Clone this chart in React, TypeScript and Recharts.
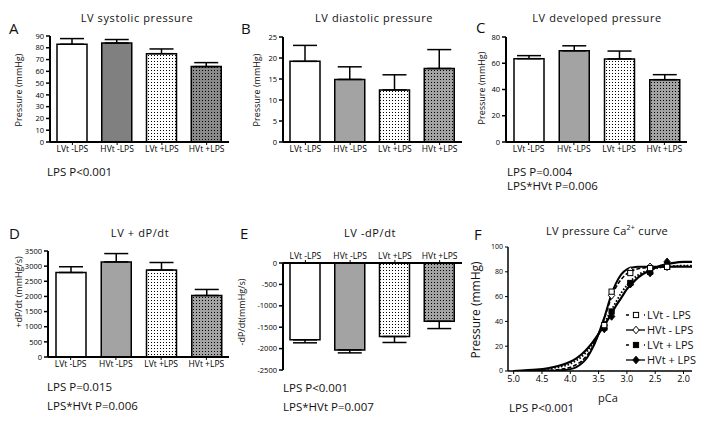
import React from 'react';
import { BarChart, Bar, XAxis, YAxis, Cell, ErrorBar, LineChart, Line } from 'recharts';

const FONT = '"Open Sans", "Noto Sans", sans-serif';

const groups = ['LVt -LPS', 'HVt -LPS', 'LVt +LPS', 'HVt +LPS'];

const systolicMean = [83, 84, 75, 64];
const systolicSem = [4.8, 3, 4, 3.4];
const systolicTicks = [0, 10, 20, 30, 40, 50, 60, 70, 80, 90];

const diastolicMean = [19.2, 14.9, 12.4, 17.5];
const diastolicSem = [3.8, 3, 3.6, 4.5];
const diastolicTicks = [0, 5, 10, 15, 20, 25];

const developedMean = [63.5, 69.5, 63.3, 47.5];
const developedSem = [2.3, 3.8, 6, 3.8];
const developedTicks = [0, 20, 40, 60, 80];

const plusMean = [2790, 3140, 2870, 2030];
const plusSem = [190, 275, 250, 200];
const plusTicks = [0, 500, 1000, 1500, 2000, 2500, 3000, 3500];

const minusMean = [-1795, -2030, -1717, -1362];
const minusSem = [70, 70, 140, 170];
const minusTicks = [-2500, -2000, -1500, -1000, -500, 0];

// Panel F: fitted curves
const curvePCa = [5.0, 4.8, 4.6, 4.4, 4.2, 4.0, 3.9, 3.8, 3.7, 3.6, 3.5, 3.4, 3.3, 3.2, 3.1, 3.0, 2.9, 2.8, 2.6, 2.4, 2.2, 2.0, 1.85];
const curveLvtMinus = [0, 0, 0.2, 0.5, 1.2, 3, 5, 8, 13, 20, 30, 42, 56, 67, 74, 78.5, 81, 82.5, 83.5, 84, 84.3, 84.5, 84.5];
const curveHvtMinus = [0, 0, 0, 0.2, 0.5, 1.5, 3, 6, 11, 19, 30, 43, 58, 70, 78, 82, 83.5, 84, 84, 84, 84, 84, 84];
const curveLvtPlus = [0, 0.2, 0.6, 1.6, 3.2, 5.8, 8.3, 11.5, 16, 22, 30, 38.5, 47, 55, 63, 69, 74, 77.5, 81.5, 83.5, 84.5, 85, 85];
const curveHvtPlus = [0, 0.5, 1.1, 2.2, 4.2, 7.5, 10, 13.5, 18, 23.5, 30, 37, 44, 52, 59, 66, 71, 75.5, 81, 85, 87, 88, 88];

const markerPCa = [3.4, 3.27, 2.94, 2.59, 2.29];
const markLvtMinus = [37, 64, 79, 83, 84];
const markHvtMinus = [37, 61, 81, 84, 84];
const markLvtPlus = [35, 48, 71, 80, 84];
const markHvtPlus = [34, 44, 70, 79, 88];

const fTicksX = [5.0, 4.5, 4.0, 3.5, 3.0, 2.5, 2.0];
const fTicksY = [0, 20, 40, 60, 80, 100];

const fillsA = ['#ffffff', '#808080', 'url(#dotWhite)', 'url(#dotGreyDark)'];
const fillsB = ['#ffffff', '#a3a3a3', 'url(#dotWhite)', 'url(#dotGrey)'];

const toSeries = (xs: number[], ys: number[]) => xs.map((x, i) => ({ pCa: x, p: ys[i] }));

type Margin = { top: number; right: number; bottom: number; left: number };

function BarPanel(props: {
  left: number; top: number; width: number; height: number; margin: Margin;
  means: number[]; sems: number[]; ticks: number[]; fills: string[]; xTop?: boolean;
}) {
  const { left, top, width, height, margin, means, sems, ticks, fills, xTop } = props;
  const data = groups.map((g, i) => ({
    name: g,
    value: means[i],
    err: means[i] >= 0 ? [0, sems[i]] : [sems[i], 0],
  }));
  const domain = [ticks[0], ticks[ticks.length - 1]];
  return (
    <div style={{ position: 'absolute', left, top }}>
      <BarChart width={width} height={height} data={data} margin={margin} barSize={30}>
        <XAxis
          dataKey="name"
          orientation={xTop ? 'top' : 'bottom'}
          height={14}
          interval={0}
          tick={{ fontSize: 8.5, fill: '#000', stroke: 'none', fontFamily: FONT }}
          tickLine={{ stroke: '#000' }}
          tickSize={3}
          tickMargin={1}
          axisLine={{ stroke: '#000', strokeWidth: 2 }}
        />
        <YAxis
          width={30}
          domain={domain}
          ticks={ticks}
          interval={0}
          tick={{ fontSize: 7.5, fill: '#000', stroke: 'none', fontFamily: FONT }}
          tickLine={{ stroke: '#000', strokeWidth: 1.5 }}
          tickSize={4}
          tickMargin={2}
          axisLine={{ stroke: '#000', strokeWidth: 2 }}
        />
        <Bar dataKey="value" stroke="#000" strokeWidth={1.5} isAnimationActive={false}>
          {fills.map((f, i) => (
            <Cell key={i} fill={f} />
          ))}
          <ErrorBar dataKey="err" width={12} stroke="#000" strokeWidth={1.5} direction="y" isAnimationActive={false} />
        </Bar>
      </BarChart>
    </div>
  );
}

function Txt(props: { x: number; y: number; size: number; children: React.ReactNode; center?: boolean; rotate?: boolean; spacing?: number }) {
  const { x, y, size, children, center, rotate, spacing } = props;
  let transform = center ? 'translate(-50%,-50%)' : 'translate(0,-50%)';
  if (rotate) transform = 'translate(-50%,-50%) rotate(-90deg)';
  return (
    <div
      style={{
        position: 'absolute', left: x, top: y, transform, fontSize: size, fontFamily: FONT,
        whiteSpace: 'nowrap', lineHeight: 1, color: '#111', letterSpacing: spacing ?? 0,
      }}
    >
      {children}
    </div>
  );
}

type Shape = 'square' | 'diamond';

function drawMarker(shape: Shape, filled: boolean, cx: number, cy: number, key?: any) {
  const fill = filled ? '#000' : '#fff';
  if (shape === 'square') {
    return <rect key={key} x={cx - 2.6} y={cy - 2.6} width={5.2} height={5.2} fill={fill} stroke="#000" strokeWidth={1} />;
  }
  return (
    <polygon
      key={key}
      points={`${cx},${cy - 3.8} ${cx + 3.2},${cy} ${cx},${cy + 3.8} ${cx - 3.2},${cy}`}
      fill={fill}
      stroke="#000"
      strokeWidth={1}
    />
  );
}

const dotFn = (shape: Shape, filled: boolean) => (p: any) => {
  if (p == null || p.cx == null || p.cy == null) return <g key={p?.index} />;
  return drawMarker(shape, filled, p.cx, p.cy, p.index);
};

const legendItems: { label: string; shape: Shape; filled: boolean; dash?: string }[] = [
  { label: 'LVt - LPS', shape: 'square', filled: false, dash: '3 6' },
  { label: 'HVt - LPS', shape: 'diamond', filled: false },
  { label: 'LVt + LPS', shape: 'square', filled: true, dash: '3 6' },
  { label: 'HVt + LPS', shape: 'diamond', filled: true },
];

function FLegend() {
  return (
    <div style={{ position: 'absolute', left: 626, top: 307 }}>
      {legendItems.map((it, i) => (
        <div key={i} style={{ display: 'flex', alignItems: 'center', height: 15 }}>
          <svg width={20} height={12}>
            <line x1={0} y1={6} x2={19} y2={6} stroke="#000" strokeWidth={1.3} strokeDasharray={it.dash} />
            {drawMarker(it.shape, it.filled, 10, 6)}
          </svg>
          <span style={{ fontFamily: FONT, fontSize: 11, marginLeft: 1, color: '#111' }}>{it.label}</span>
        </div>
      ))}
    </div>
  );
}

function PanelF() {
  return (
    <div style={{ position: 'absolute', left: 470, top: 215 }}>
      <LineChart width={245} height={190} margin={{ top: 32, right: 23, bottom: 18, left: 8 }}>
        <XAxis
          type="number"
          dataKey="pCa"
          domain={[1.85, 5.1]}
          reversed
          allowDataOverflow
          ticks={fTicksX}
          interval={0}
          tickFormatter={(v: number) => v.toFixed(1)}
          height={16}
          tick={{ fontSize: 9, fill: '#000', stroke: 'none', fontFamily: FONT }}
          tickLine={{ stroke: '#000' }}
          tickSize={3}
          tickMargin={2}
          axisLine={{ stroke: '#000', strokeWidth: 1.5 }}
        />
        <YAxis
          width={30}
          domain={[0, 100]}
          ticks={fTicksY}
          interval={0}
          allowDataOverflow
          tick={{ fontSize: 7, fill: '#000', stroke: 'none', fontFamily: FONT }}
          tickLine={{ stroke: '#000' }}
          tickSize={3}
          tickMargin={2}
          axisLine={{ stroke: '#000', strokeWidth: 1.5 }}
        />
        <Line data={toSeries(curvePCa, curveLvtPlus)} dataKey="p" type="monotone" stroke="#000" strokeWidth={1.8} strokeDasharray="1.6 1.8" dot={false} isAnimationActive={false} />
        <Line data={toSeries(curvePCa, curveHvtPlus)} dataKey="p" type="monotone" stroke="#000" strokeWidth={2.2} dot={false} isAnimationActive={false} />
        <Line data={toSeries(curvePCa, curveLvtMinus)} dataKey="p" type="monotone" stroke="#000" strokeWidth={1.6} strokeDasharray="4 2" dot={false} isAnimationActive={false} />
        <Line data={toSeries(curvePCa, curveHvtMinus)} dataKey="p" type="monotone" stroke="#000" strokeWidth={2} dot={false} isAnimationActive={false} />
        <Line data={toSeries(markerPCa, markLvtPlus)} dataKey="p" stroke="none" dot={dotFn('square', true)} isAnimationActive={false} />
        <Line data={toSeries(markerPCa, markHvtPlus)} dataKey="p" stroke="none" dot={dotFn('diamond', true)} isAnimationActive={false} />
        <Line data={toSeries(markerPCa, markHvtMinus)} dataKey="p" stroke="none" dot={dotFn('diamond', false)} isAnimationActive={false} />
        <Line data={toSeries(markerPCa, markLvtMinus)} dataKey="p" stroke="none" dot={dotFn('square', false)} isAnimationActive={false} />
      </LineChart>
    </div>
  );
}

export default function App() {
  return (
    <div style={{ position: 'absolute', left: 0, top: 0, width: 715, height: 429, background: '#fff', overflow: 'hidden' }}>
      <svg width={0} height={0} style={{ position: 'absolute' }}>
        <defs>
          <pattern id="dotWhite" width={3} height={3} patternUnits="userSpaceOnUse">
            <rect width={3} height={3} fill="#fff" />
            <rect x={1} y={1} width={1} height={1} fill="#000" />
          </pattern>
          <pattern id="dotGrey" width={3} height={3} patternUnits="userSpaceOnUse">
            <rect width={3} height={3} fill="#a3a3a3" />
            <rect x={1} y={1} width={1} height={1} fill="#000" />
          </pattern>
          <pattern id="dotGreyDark" width={3} height={3} patternUnits="userSpaceOnUse">
            <rect width={3} height={3} fill="#8a8a8a" />
            <rect x={1} y={1} width={1} height={1} fill="#000" />
          </pattern>
        </defs>
      </svg>

      <BarPanel left={0} top={0} width={240} height={160} margin={{ top: 36, right: 11, bottom: 4, left: 20 }}
        means={systolicMean} sems={systolicSem} ticks={systolicTicks} fills={fillsA} />
      <BarPanel left={235} top={0} width={240} height={160} margin={{ top: 37, right: 13, bottom: 4, left: 18 }}
        means={diastolicMean} sems={diastolicSem} ticks={diastolicTicks} fills={fillsB} />
      <BarPanel left={470} top={0} width={240} height={160} margin={{ top: 37, right: 23, bottom: 4, left: 6 }}
        means={developedMean} sems={developedSem} ticks={developedTicks} fills={fillsB} />
      <BarPanel left={0} top={215} width={240} height={160} margin={{ top: 36, right: 11, bottom: 4, left: 18 }}
        means={plusMean} sems={plusSem} ticks={plusTicks} fills={fillsB} />
      <BarPanel left={235} top={215} width={240} height={170} margin={{ top: 34, right: 13, bottom: 15, left: 18 }}
        means={minusMean} sems={minusSem} ticks={minusTicks} fills={fillsB} xTop />
      <PanelF />
      <FLegend />

      {/* Panel letters */}
      <Txt x={9} y={28} size={15}>A</Txt>
      <Txt x={241} y={28} size={15}>B</Txt>
      <Txt x={476} y={27} size={15}>C</Txt>
      <Txt x={9} y={233} size={15}>D</Txt>
      <Txt x={240} y={233} size={15}>E</Txt>
      <Txt x={474} y={234} size={15}>F</Txt>

      {/* Titles */}
      <Txt x={137} y={17} size={11} center spacing={0.6}>LV systolic pressure</Txt>
      <Txt x={374} y={17} size={11} center spacing={0.6}>LV diastolic pressure</Txt>
      <Txt x={597} y={17} size={11} center spacing={0.6}>LV developed pressure</Txt>
      <Txt x={140} y={232} size={11} center spacing={0.6}>LV + dP/dt</Txt>
      <Txt x={370} y={232} size={11} center spacing={0.6}>LV -dP/dt</Txt>
      <Txt x={607} y={230} size={11} center spacing={0.3}>
        LV pressure Ca<sup style={{ fontSize: 7 }}>2+</sup> curve
      </Txt>

      {/* Y labels */}
      <Txt x={18} y={90} size={9} rotate>Pressure (mmHg)</Txt>
      <Txt x={256} y={90} size={9} rotate>Pressure (mmHg)</Txt>
      <Txt x={481} y={88} size={9} rotate>Pressure (mmHg)</Txt>
      <Txt x={18} y={292} size={9} rotate>+dP/dt (mmHg/s)</Txt>
      <Txt x={241} y={312} size={9} rotate>-dP/dt(mmHg/s)</Txt>
      <Txt x={476} y={310} size={12} rotate>Pressure (mmHg)</Txt>
      <Txt x={608} y={397} size={11} center>pCa</Txt>

      {/* Statistics */}
      <Txt x={47} y={172} size={11.5}>LPS P&lt;0.001</Txt>
      <Txt x={507} y={172} size={11.5}>LPS P=0.004</Txt>
      <Txt x={507} y={186} size={11.5}>LPS*HVt P=0.006</Txt>
      <Txt x={47} y={387} size={11.5}>LPS P=0.015</Txt>
      <Txt x={47} y={406} size={11.5}>LPS*HVt P=0.006</Txt>
      <Txt x={283} y={388} size={11.5}>LPS P&lt;0.001</Txt>
      <Txt x={283} y={407} size={11.5}>LPS*HVt P=0.007</Txt>
      <Txt x={509} y={408} size={11.5}>LPS P&lt;0.001</Txt>
    </div>
  );
}
